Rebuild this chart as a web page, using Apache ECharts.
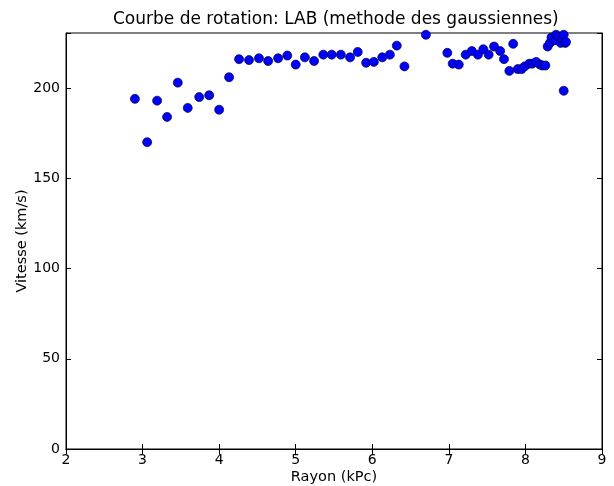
<!DOCTYPE html>
<html>
<head>
<meta charset="utf-8">
<script src="https://cdn.jsdelivr.net/npm/echarts@6/dist/echarts.min.js"></script>
<style>html,body{margin:0;padding:0;background:#fff}#c{width:614px;height:486px}</style>
</head>
<body>
<div id="c"></div>
<script>
const titleText = "Courbe de rotation: LAB (methode des gaussiennes)";
const xName = "Rayon (kPc)";
const yName = "Vitesse (km/s)";
const rayon = [2.90,3.06,3.19,3.32,3.46,3.59,3.74,3.87,4.00,4.13,4.26,4.39,4.52,4.64,4.77,4.89,5.00,5.12,5.24,5.36,5.47,5.59,5.71,5.81,5.92,6.02,6.13,6.23,6.32,6.42,6.70,6.98,7.05,7.13,7.22,7.30,7.38,7.45,7.52,7.59,7.67,7.72,7.79,7.84,7.90,7.95,7.99,8.05,8.09,8.14,8.19,8.22,8.26,8.29,8.32,8.34,8.38,8.40,8.43,8.46,8.48,8.50,8.52,8.53,8.50];
const vitesse = [194,170,193,184,203,189,195,196,188,206,216,215.5,216.5,215,216.5,218,213,217,215,218.5,218.5,218.5,217,220,214,214.5,217,218.5,223.5,212,229.5,219.5,213.5,213,218.5,220.5,218.5,221.5,218.5,223,220.5,216,209.5,224.5,210.5,210.5,212,213.5,213.5,214.5,213,212.5,212.5,223,225,228,226.5,229.5,228.5,225,227,229.5,225,225.5,198.5];
const xMin = 2, xMax = 9, xStep = 1;
const yMin = 0, yMax = 230.5, yStep = 50;

const pts = rayon.map((x, i) => [x, vitesse[i]]);
const font = "DejaVu Sans";
const tickStyle = {inside: true, length: 5, lineStyle: {color: '#000'}};
const yFmt = v => (v % yStep === 0 ? String(v) : '');
const chart = echarts.init(document.getElementById('c'));
chart.setOption({
  animation: false,
  title: {text: titleText, left: 108, top: 6,
    textStyle: {fontFamily: font, fontSize: 17, fontWeight: 'normal', color: '#000'}},
  grid: {left: 66, right: 12, top: 33, bottom: 37, show: true, borderColor: '#000', borderWidth: 1,
    outerBoundsMode: 'none', containLabel: false},
  xAxis: [{
    type: 'value', min: xMin, max: xMax, interval: xStep, position: 'bottom',
    name: xName, nameLocation: 'middle', nameGap: 21, nameMoveOverlap: false,
    nameTextStyle: {fontFamily: font, fontSize: 14.5, color: '#000'},
    axisLine: {lineStyle: {color: '#000'}}, axisTick: tickStyle,
    axisLabel: {fontFamily: font, fontSize: 14, color: '#000', margin: 4},
    splitLine: {show: false}
  }, {
    type: 'value', min: xMin, max: xMax, interval: xStep, position: 'top',
    axisLine: {lineStyle: {color: '#000'}}, axisTick: tickStyle,
    axisLabel: {show: false}, splitLine: {show: false}
  }],
  yAxis: [{
    type: 'value', min: yMin, max: yMax, interval: yStep, position: 'left',
    name: yName, nameLocation: 'middle', nameGap: 36, nameRotate: 90, nameMoveOverlap: false,
    nameTextStyle: {fontFamily: font, fontSize: 14.5, color: '#000'},
    axisLine: {lineStyle: {color: '#000'}}, axisTick: tickStyle,
    axisLabel: {fontFamily: font, fontSize: 14, color: '#000', margin: 6, formatter: yFmt},
    splitLine: {show: false}
  }, {
    type: 'value', min: yMin, max: yMax, interval: yStep, position: 'right',
    axisLine: {lineStyle: {color: '#000'}}, axisTick: tickStyle,
    axisLabel: {show: false}, splitLine: {show: false}
  }],
  series: [{
    type: 'scatter', xAxisIndex: 0, yAxisIndex: 0, data: pts,
    symbol: 'circle', symbolSize: 9, clip: true,
    itemStyle: {color: '#0000ff', borderColor: '#000033', borderWidth: 0.7, opacity: 1}
  }]
});
</script>
</body>
</html>
